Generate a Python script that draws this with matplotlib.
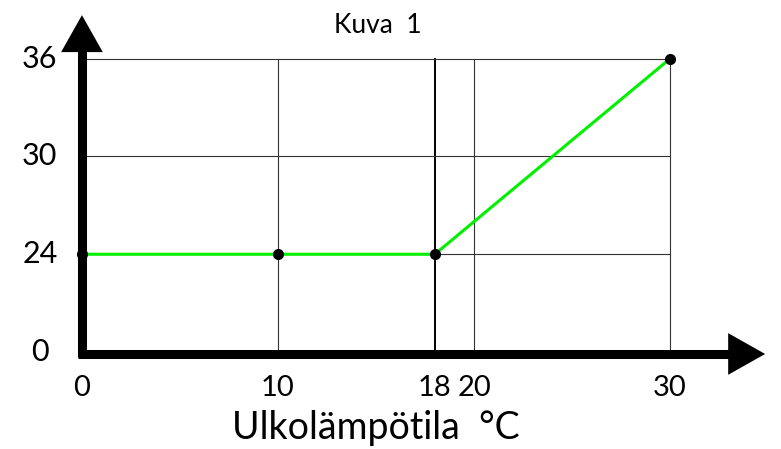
import matplotlib
matplotlib.use("Agg")
import numpy as np
from matplotlib import pyplot as plt

plt.rcParams['font.family'] = ['Lato', 'DejaVu Sans']

# data
temps = [0, 10, 18, 30]
values = [24, 24, 24, 36]
x_ticks = [0, 10, 18, 20, 30]
y_ticks = [0, 24, 30, 36]
x_grid = [10, 18, 20, 30]
y_grid = [24, 30, 36]

# the y axis is broken: 0 sits at the bottom, 24..36 are spread out above it
def ypos(v):
    v = np.asarray(v, dtype=float)
    return np.where(v > 0, v - 18, 0.0)

fig = plt.figure(figsize=(7.81, 4.49), dpi=100)
ax = fig.add_axes([0, 0, 1, 1])
ax.set_xlim(-4.18, 35.66)
ax.set_ylim(-5.95, 21.6)
ax.axis('off')

# grid
for g in x_grid:
    c, w = ('black', 1.4) if g == 18 else ('#333333', 0.8)
    ax.plot([g, g], [0, ypos(36)], color=c, lw=w, zorder=1)
for g in y_grid:
    ax.plot([0, 30], [ypos(g), ypos(g)], color='#333333', lw=0.8, zorder=1)

# curve
ax.plot(temps, ypos(values), color='#00f000', lw=2.2, zorder=3)
ax.plot(temps, ypos(values), 'o', color='black', ms=7, zorder=4)

# thick axes with arrow heads
ax.plot([0, 0], [-0.3, 19.0], color='black', lw=6.5, solid_capstyle='butt', zorder=5)
ax.annotate('', xy=(0, 20.67), xytext=(0, 18.0),
            arrowprops=dict(arrowstyle='-|>,head_length=2.66,head_width=1.5',
                            mutation_scale=10, lw=0, color='black',
                            shrinkA=0, shrinkB=0), zorder=5)
ax.plot([-0.2, 33.5], [-0.12, -0.12], color='black', lw=6.5, solid_capstyle='butt', zorder=5)
ax.annotate('', xy=(34.85, -0.12), xytext=(32.0, -0.12),
            arrowprops=dict(arrowstyle='-|>,head_length=2.66,head_width=1.5',
                            mutation_scale=10, lw=0, color='black',
                            shrinkA=0, shrinkB=0), zorder=5)

# tick labels
for t in x_ticks:
    ax.text(t, -2.2, str(t), ha='center', va='center', fontsize=21)
for t in y_ticks:
    ax.text(-2.15, ypos(t), str(t), ha='center', va='center', fontsize=22)

ax.text(15, -4.66, 'Ulkolämpötila  °C', ha='center', va='center', fontsize=27)
ax.text(15.1, 20.06, 'Kuva  1', ha='center', va='center', fontsize=19)

fig.savefig('out.png', dpi=100)
